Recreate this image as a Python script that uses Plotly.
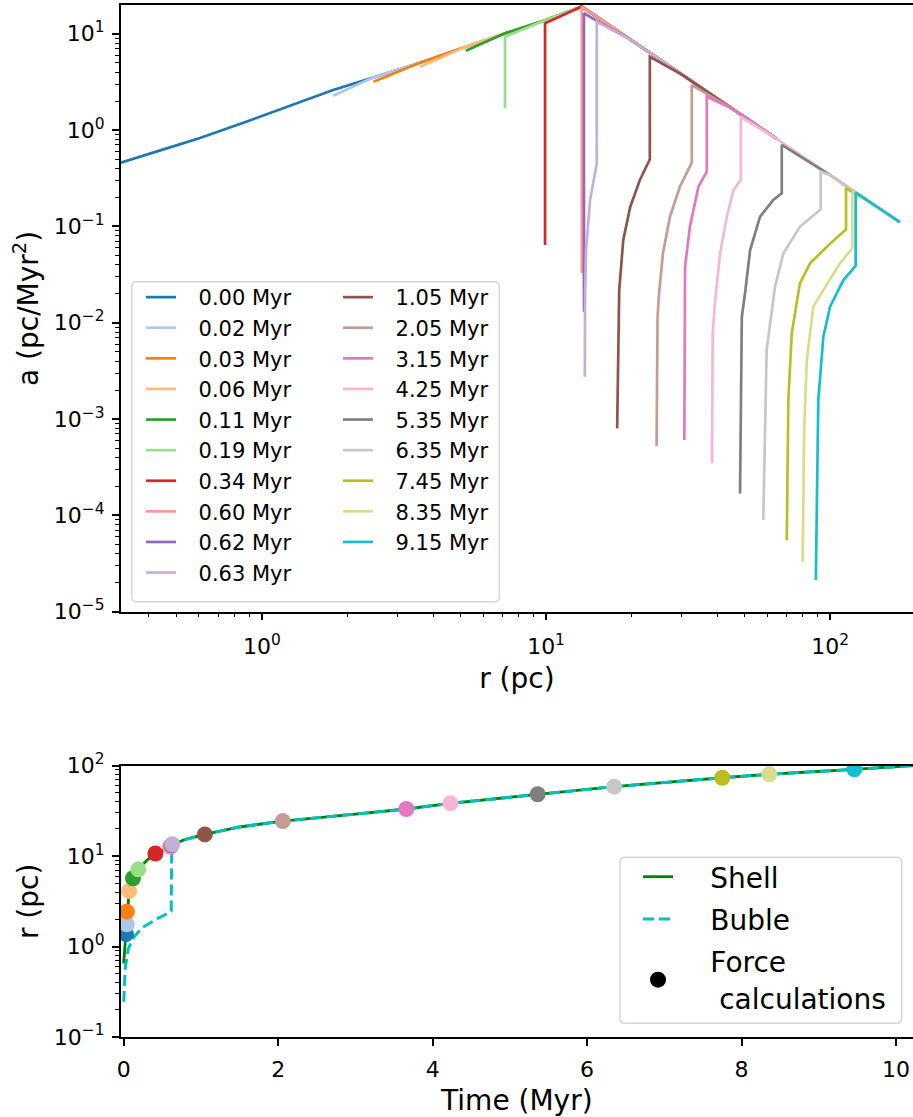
import plotly.graph_objects as go

# ---------------- top panel data ----------------
labels = ["0.00 Myr", "0.02 Myr", "0.03 Myr", "0.06 Myr", "0.11 Myr", "0.19 Myr",
          "0.34 Myr", "0.60 Myr", "0.62 Myr", "0.63 Myr", "1.05 Myr", "2.05 Myr",
          "3.15 Myr", "4.25 Myr", "5.35 Myr", "6.35 Myr", "7.45 Myr", "8.35 Myr",
          "9.15 Myr"]

# outer profile shared by all snapshots (r in pc, a in pc/Myr^2)
env_r = [0.28, 0.316, 0.45, 0.605, 0.9, 1.36, 1.78, 2.46, 3.6, 5.22, 7.17, 9.92,
         13.36, 20.0, 30.0, 45.0, 64.9, 100.0, 140.0, 176.0]
env_a = [0.40, 0.455, 0.63, 0.826, 1.25, 1.95, 2.6, 3.5, 5.0, 7.33, 10.1, 13.8,
         19.1, 8.52, 3.79, 1.68, 0.81, 0.341, 0.174, 0.111]

# inner part of each snapshot profile
r_000 = []
a_000 = []
r_002 = [1.78]
a_002 = [2.27]
r_003 = [2.47]
a_003 = [3.18]
r_006 = [3.6]
a_006 = [4.54]
r_011 = [5.22]
a_011 = [6.67]
r_019 = [7.17, 7.17]
a_019 = [1.68, 9.31]
r_034 = [9.92, 9.92]
a_034 = [0.064, 12.8]
r_060 = [13.36, 13.36]
a_060 = [0.0328, 19.1]
r_062 = [13.6, 13.6, 15.1]
a_062 = [0.013, 16.3, 13.6]
r_063 = [13.7, 13.72, 13.83, 14.29, 15.09, 15.09]
a_063 = [0.00275, 0.0172, 0.0568, 0.1875, 0.452, 13.3]
r_105 = [17.8, 18.0, 18.1, 18.7, 19.8, 21.4, 23.2, 23.2]
a_105 = [0.0008, 0.0115, 0.0218, 0.0721, 0.16, 0.303, 0.497, 5.77]
r_205 = [24.5, 24.7, 25.0, 25.8, 27.3, 29.6, 32.6, 32.6]
a_205 = [0.000525, 0.0115, 0.0202, 0.0525, 0.126, 0.258, 0.458, 2.93]
r_315 = [30.69, 30.78, 30.86, 32.1, 34.4, 36.8, 36.8]
a_315 = [0.000605, 0.0115, 0.0381, 0.099, 0.258, 0.369, 2.22]
r_425 = [38.4, 38.6, 39.4, 41.0, 43.3, 45.7, 48.5, 48.5]
a_425 = [0.000347, 0.00776, 0.0172, 0.0525, 0.126, 0.238, 0.303, 1.37]
r_535 = [48.2, 48.9, 50.2, 52.3, 56.7, 63.1, 67.6, 67.6]
a_535 = [0.000169, 0.0115, 0.0202, 0.0568, 0.126, 0.188, 0.22, 0.70]
r_635 = [58.2, 59.8, 64.0, 68.5, 78.3, 92.7, 92.7]
a_635 = [0.0000895, 0.0052, 0.0237, 0.0525, 0.099, 0.150, 0.369]
r_745 = [70.4, 71.3, 73.3, 78.3, 85.0, 100.0, 113.8, 113.8]
a_745 = [0.000055, 0.00157, 0.00776, 0.0256, 0.0414, 0.066, 0.093, 0.248]
r_835 = [80.1, 81.0, 82.8, 87.3, 94.7, 108.3, 119.7, 119.7]
a_835 = [0.000033, 0.00072, 0.0041, 0.0147, 0.0218, 0.0414, 0.0592, 0.229]
r_915 = [89.1, 90.9, 94.7, 100.0, 111.4, 123.0, 123.0]
a_915 = [0.0000213, 0.00157, 0.00716, 0.0147, 0.0277, 0.0388, 0.224]

# outer radius reached by each profile
end_r = [64.9, 64.9, 64.9, 64.9, 64.9, 64.9, 64.9, 64.9, 64.9, 64.9,
         64.9, 64.9, 64.9, 176.0, 176.0, 176.0, 176.0, 176.0, 176.0]

x_ticks = [1, 10, 100]
x_ticktext = ["10<sup>0</sup>", "10<sup>1</sup>", "10<sup>2</sup>"]
y_ticks = [1e-5, 1e-4, 1e-3, 1e-2, 1e-1, 1, 10]
y_ticktext = ["10<sup>\u22125</sup>", "10<sup>\u22124</sup>", "10<sup>\u22123</sup>",
              "10<sup>\u22122</sup>", "10<sup>\u22121</sup>", "10<sup>0</sup>",
              "10<sup>1</sup>"]

# ---------------- bottom panel data ----------------
shell_t = [0.0, 0.01, 0.025, 0.03, 0.04, 0.045, 0.07, 0.12, 0.19, 0.3, 0.41, 0.6,
           0.63, 0.8, 1.05, 1.5, 2.06, 3.0, 3.66, 4.23, 5.36, 6.35, 7.75, 8.36,
           9.46, 10.3]
shell_r = [0.65, 1.0, 1.3, 1.37, 1.76, 2.43, 4.11, 5.69, 7.15, 9.0, 10.7, 12.7,
           13.5, 15.3, 17.4, 21.0, 24.4, 29.2, 33.2, 38.4, 48.3, 58.6, 73.6, 80.4,
           91.2, 101.5]
bubble_t = [0.0, 0.02, 0.06, 0.125, 0.24, 0.42, 0.58, 0.615, 0.62, 0.63, 0.8,
            1.05, 1.5, 2.06, 3.0, 3.66, 4.23, 5.36, 6.35, 7.75, 8.36, 9.46, 10.3]
bubble_r = [0.245, 0.58, 0.95, 1.25, 1.62, 2.0, 2.35, 2.45, 9.8, 13.5, 15.3,
            17.4, 21.0, 24.4, 29.2, 33.2, 38.4, 48.3, 58.6, 73.6, 80.4, 91.2, 101.5]
force_t = [0.03, 0.04, 0.04, 0.07, 0.12, 0.19, 0.41, 0.60, 0.62, 0.63, 1.05,
           2.06, 3.66, 4.23, 5.36, 6.35, 7.75, 8.36, 9.46]
force_r = [1.37, 1.76, 2.43, 4.11, 5.69, 7.15, 10.7, 12.7, 13.2, 13.5, 17.4,
           24.4, 33.2, 38.4, 48.3, 58.6, 73.6, 80.4, 91.2]
t_ticks = [0, 2, 4, 6, 8, 10]
r_ticks = [0.1, 1, 10, 100]
r_ticktext = ["10<sup>\u22121</sup>", "10<sup>0</sup>", "10<sup>1</sup>", "10<sup>2</sup>"]

# ---------------- styles ----------------
colors = ["#1f77b4", "#aec7e8", "#ff7f0e", "#ffbb78", "#2ca02c", "#98df8a",
          "#d62728", "#ff9896", "#9467bd", "#c5b0d5", "#8c564b", "#c49c94",
          "#e377c2", "#f7b6d2", "#7f7f7f", "#c7c7c7", "#bcbd22", "#dbdb8d",
          "#17becf"]
FONT = "DejaVu Sans"
W, H = 913, 1117
PAD_TOP = "\u00a0\u00a0\u2009"        # gap between legend sample and text
PAD_BOT = "\u00a0\u00a0\u00a0\u2009"

inner_r = [r_000, r_002, r_003, r_006, r_011, r_019, r_034, r_060, r_062, r_063,
           r_105, r_205, r_315, r_425, r_535, r_635, r_745, r_835, r_915]
inner_a = [a_000, a_002, a_003, a_006, a_011, a_019, a_034, a_060, a_062, a_063,
           a_105, a_205, a_315, a_425, a_535, a_635, a_745, a_835, a_915]

fig = go.Figure()

for i, lab in enumerate(labels):
    rr = list(inner_r[i])
    aa = list(inner_a[i])
    start = rr[-1] if rr else 0.0
    for er, ea in zip(env_r, env_a):
        if er > start and er <= end_r[i]:
            rr.append(er)
            aa.append(ea)
    fig.add_trace(go.Scatter(
        x=rr, y=aa, mode="lines", name=PAD_TOP + lab,
        line=dict(color=colors[i], width=2.7),
        xaxis="x", yaxis="y",
        legend="legend" if i < 10 else "legend2",
        legendgroup="g%d" % i,
    ))

fig.add_trace(go.Scatter(x=shell_t, y=shell_r, mode="lines", name=PAD_BOT + "Shell",
                         line=dict(color="#008000", width=2.8),
                         xaxis="x2", yaxis="y2", legend="legend3", legendgroup="s"))
fig.add_trace(go.Scatter(x=bubble_t, y=bubble_r, mode="lines", name=PAD_BOT + "Buble",
                         line=dict(color="#00bfbf", width=3, dash="11px,5px"),
                         xaxis="x2", yaxis="y2", legend="legend3", legendgroup="b"))
fig.add_trace(go.Scatter(x=force_t, y=force_r, mode="markers", showlegend=False,
                         marker=dict(size=16, color=colors, line=dict(width=0)),
                         xaxis="x2", yaxis="y2"))
fig.add_trace(go.Scatter(x=[None], y=[None], mode="markers",
                         name=PAD_BOT + "Force<br>" + PAD_BOT + "\u00a0calculations",
                         marker=dict(size=16, color="black"),
                         xaxis="x2", yaxis="y2", legend="legend3", legendgroup="f"))

x0 = 120.7 / W
ax_common = dict(showline=True, linecolor="black", linewidth=1.5, ticks="outside",
                 ticklen=7, tickwidth=1.5, tickcolor="black", showgrid=False,
                 zeroline=False, automargin=False,
                 tickfont=dict(family=FONT, size=22, color="black"))

def minor_log(lo, hi):
    vals = []
    for e in range(lo, hi):
        for m in range(2, 10):
            vals.append(m * 10.0 ** e)
    return dict(tickmode="array", tickvals=vals, ticks="outside", ticklen=4,
                tickwidth=1.1, tickcolor="black", showgrid=False)

fig.update_layout(
    width=W, height=H, margin=dict(l=0, r=0, t=0, b=0, autoexpand=False),
    paper_bgcolor="white", plot_bgcolor="white",
    font=dict(family=FONT, color="black"),
    xaxis=dict(type="log", range=[-0.4975, 2.292], domain=[x0, 1.0], anchor="y",
               mirror=True, tickmode="array", tickvals=x_ticks, ticktext=x_ticktext,
               minor=minor_log(-1, 3), ticklabelstandoff=7,
               title=dict(text="r (pc)", font=dict(family=FONT, size=28), standoff=11),
               **ax_common),
    yaxis=dict(type="log", range=[-5, 1.298], domain=[1 - 611.7 / H, 1 - 5 / H],
               anchor="x", tickmode="array", tickvals=y_ticks, ticktext=y_ticktext,
               minor=minor_log(-5, 2), ticklabelstandoff=3,
               title=dict(text="a (pc/Myr<sup>2</sup>)", font=dict(family=FONT, size=28),
                          standoff=7),
               **ax_common),
    xaxis2=dict(range=[-0.039, 10.22], domain=[x0, 1.0], anchor="y2", mirror=True,
                tickmode="array", tickvals=t_ticks, ticklabelstandoff=5,
                title=dict(text="Time (Myr)", font=dict(family=FONT, size=28), standoff=11),
                **ax_common),
    yaxis2=dict(type="log", range=[-1, 2], domain=[1 - 1037 / H, 1 - 765.7 / H],
                anchor="x2", tickmode="array", tickvals=r_ticks, ticktext=r_ticktext,
                minor=minor_log(-1, 2), ticklabelstandoff=3,
                title=dict(text="r (pc)", font=dict(family=FONT, size=28), standoff=7),
                **ax_common),
    legend=dict(x=141 / W, y=1 - 277 / H, xanchor="left", yanchor="top",
                bgcolor="rgba(0,0,0,0)", borderwidth=0, tracegroupgap=0.3,
                font=dict(family=FONT, size=21, color="black")),
    legend2=dict(x=338 / W, y=1 - 277 / H, xanchor="left", yanchor="top",
                 bgcolor="rgba(0,0,0,0)", borderwidth=0, tracegroupgap=0.3,
                 font=dict(family=FONT, size=21, color="black")),
    legend3=dict(x=638 / W, y=1 - 852 / H, xanchor="left", yanchor="top",
                 bgcolor="rgba(0,0,0,0)", borderwidth=0, tracegroupgap=3,
                 font=dict(family=FONT, size=28, color="black")),
)

def rounded_box(xl, yt, xr, yb, rad=5):
    # pixel coordinates -> paper path with rounded corners
    def px(x):
        return x / W
    def py(y):
        return 1 - y / H
    p = "M %f,%f " % (px(xl + rad), py(yt))
    p += "L %f,%f " % (px(xr - rad), py(yt))
    p += "Q %f,%f %f,%f " % (px(xr), py(yt), px(xr), py(yt + rad))
    p += "L %f,%f " % (px(xr), py(yb - rad))
    p += "Q %f,%f %f,%f " % (px(xr), py(yb), px(xr - rad), py(yb))
    p += "L %f,%f " % (px(xl + rad), py(yb))
    p += "Q %f,%f %f,%f " % (px(xl), py(yb), px(xl), py(yb - rad))
    p += "L %f,%f " % (px(xl), py(yt + rad))
    p += "Q %f,%f %f,%f Z" % (px(xl), py(yt), px(xl + rad), py(yt))
    return dict(type="path", xref="paper", yref="paper", path=p,
                line=dict(color="#d6d6d6", width=1.5),
                fillcolor="rgba(255,255,255,0.8)", layer="above")

fig.update_layout(shapes=[rounded_box(131.7, 281.7, 499.3, 601.7),
                          rounded_box(620.0, 857.3, 901.7, 1023.3)])

fig.write_html("out.html")
